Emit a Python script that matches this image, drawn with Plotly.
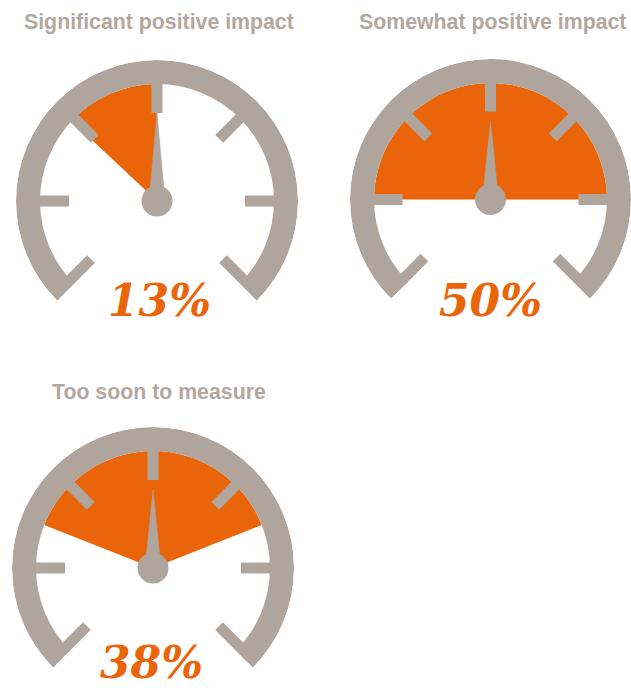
import math
import plotly.graph_objects as go

# ---------------- data ----------------
TITLES = ["Significant positive impact", "Somewhat positive impact", "Too soon to measure"]
VALUES = [13, 50, 38]                      # percent
LABELS = ["13%", "50%", "38%"]
WEDGE_ANCHOR = ["top-left", "center", "center"]  # how the filled sector sits relative to 12 o'clock
TICK_ANGLES = [225, 180, 135, 90, 45, 0, -45]    # degrees, 0 = 3 o'clock
SCALE_START = 225
SCALE_END = -45

# ---------------- style / layout ----------------
W, H = 631, 688
GRAY = "#AFA59C"
ORANGE = "#EA6509"
TITLE_COLOR = "#B2A89F"
# positions below are in pixels from the top-left corner
CENTERS = [(157, 201, 141), (490.5, 199.5, 140.5), (153, 568, 141)]   # cx, cy, outer radius
TITLE_Y = [22, 22, 392]
TITLE_X = [159, 492, 159]
LABEL_POS = [(159, 300), (490, 300), (151, 662)]
RING_W = 24
TICK_IN, TICK_W = 88, 11
NEEDLE_LEN = [88, 78, 78]
NEEDLE_BASE = 8
DOT = 31


def px_x(x):
    return x / W


def px_y(y):
    return 1 - y / H


fig = go.Figure()
layout_polars = {}

for i in range(3):
    cx, cy, R = CENTERS[i]
    pname = "polar" if i == 0 else f"polar{i+1}"
    sub = pname
    r_in = R - RING_W

    # filled sector
    span = VALUES[i] * 3.6
    wc = 90 if WEDGE_ANCHOR[i] == "center" else 90 + span / 2
    fig.add_trace(go.Barpolar(r=[r_in], theta=[wc], width=[span], base=0,
                              marker=dict(color=ORANGE, line=dict(width=0)),
                              subplot=sub, hoverinfo="skip", showlegend=False))
    # ring
    ring_span = SCALE_START - SCALE_END
    ring_c = (SCALE_START + SCALE_END) / 2
    fig.add_trace(go.Barpolar(r=[RING_W], theta=[ring_c], width=[ring_span], base=r_in,
                              marker=dict(color=GRAY, line=dict(width=0)),
                              subplot=sub, hoverinfo="skip", showlegend=False))
    # ticks
    for a in TICK_ANGLES:
        r1, r2 = TICK_IN, r_in + 2
        if a in (SCALE_START, SCALE_END):
            sgn = -1 if a == SCALE_START else 1
            d = TICK_W / 2
            th = [a + sgn * math.degrees(math.asin(d / r1)), a + sgn * math.degrees(math.asin(d / r2))]
        else:
            th = [a, a]
        fig.add_trace(go.Scatterpolar(r=[r1, r2], theta=th, mode="lines",
                                      line=dict(color=GRAY, width=TICK_W),
                                      subplot=sub, hoverinfo="skip", showlegend=False))
    # needle
    fig.add_trace(go.Scatterpolar(r=[NEEDLE_BASE, NEEDLE_LEN[i], NEEDLE_BASE, NEEDLE_BASE],
                                  theta=[0, 90, 180, 0], mode="lines", fill="toself",
                                  fillcolor=GRAY, line=dict(color=GRAY, width=0.5),
                                  subplot=sub, hoverinfo="skip", showlegend=False))
    # hub
    fig.add_trace(go.Scatterpolar(r=[0], theta=[0], mode="markers",
                                  marker=dict(color=GRAY, size=DOT, line=dict(width=0)),
                                  subplot=sub, hoverinfo="skip", showlegend=False, cliponaxis=False))

    low = R * math.sin(math.radians(45))
    dom = dict(x=[max(0, px_x(cx - R)), min(1, px_x(cx + R))],
               y=[px_y(cy + low), min(1, px_y(cy - R))])
    layout_polars[pname] = dict(
        domain=dom, bgcolor="rgba(0,0,0,0)", sector=[SCALE_END, SCALE_START], hole=0,
        radialaxis=dict(visible=False, range=[0, R], showgrid=False),
        angularaxis=dict(visible=False, showgrid=False, rotation=0, direction="counterclockwise"),
    )

annotations = []
for i in range(3):
    annotations.append(dict(text=TITLES[i], x=px_x(TITLE_X[i]), y=px_y(TITLE_Y[i]),
                            xref="paper", yref="paper", xanchor="center", yanchor="middle",
                            showarrow=False,
                            font=dict(family="Liberation Sans", size=21.3, color=TITLE_COLOR, weight="bold")))
    lx, ly = LABEL_POS[i]
    annotations.append(dict(text=LABELS[i], x=px_x(lx), y=px_y(ly),
                            xref="paper", yref="paper", xanchor="center", yanchor="middle",
                            showarrow=False,
                            font=dict(family="DejaVu Serif", size=44, color=ORANGE,
                                      weight="bold", style="italic")))

fig.update_layout(width=W, height=H, autosize=False,
                  margin=dict(l=0, r=0, t=0, b=0),
                  paper_bgcolor="white", plot_bgcolor="white",
                  showlegend=False, annotations=annotations, **layout_polars)

fig.write_html("out.html",
               config={"displayModeBar": False, "staticPlot": True},
               post_script="document.documentElement.style.overflow='hidden';"
                           "document.body.style.margin='0';document.body.style.overflow='hidden';")
